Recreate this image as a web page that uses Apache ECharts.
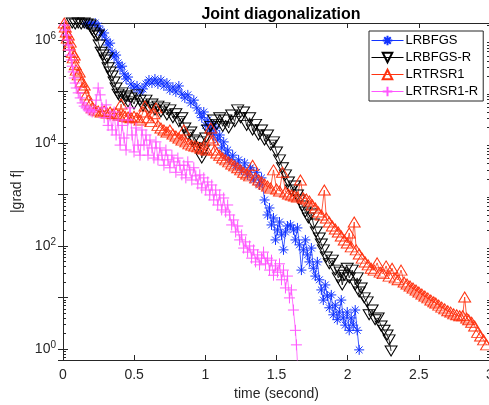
<!DOCTYPE html>
<html>
<head>
<meta charset="utf-8">
<script src="https://cdn.jsdelivr.net/npm/echarts@6/dist/echarts.min.js"></script>
<style>
html,body{margin:0;padding:0;background:#fff;}
#chart{width:489px;height:405px;}
</style>
</head>
<body>
<div id="chart"></div>
<script>
// ---- data: [time (s), |grad f|] ----
const seriesNames = ['LRBFGS', 'LRBFGS-R', 'LRTRSR1', 'LRTRSR1-R'];

const lrbfgs = [
[0.163,2.05e6],[0.184,2.14e6],[0.205,2.05e6],[0.226,2.14e6],[0.247,1.87e6],[0.261,1.56e6],[0.275,1.25e6],[0.289,1.37e6],
[0.303,1.0e6],[0.317,8.0e5],[0.331,8.7e5],[0.345,5.8e5],[0.359,4.7e5],[0.373,5.1e5],[0.387,3.6e5],[0.401,2.9e5],
[0.415,3.1e5],[0.429,2.2e5],[0.443,1.75e5],[0.457,1.91e5],[0.478,1.40e5],[0.499,1.17e5],[0.520,1.28e5],[0.541,9.8e4],
[0.562,1.12e5],[0.583,1.40e5],[0.604,1.67e5],[0.625,1.46e5],[0.646,1.75e5],[0.667,1.40e5],[0.688,1.67e5],[0.709,1.28e5],
[0.730,1.46e5],[0.751,1.07e5],[0.772,1.22e5],[0.793,9.8e4],[0.814,1.28e5],[0.835,8.9e4],[0.856,7.5e4],[0.877,8.6e4],
[0.898,6.0e4],[0.919,6.8e4],[0.940,4.8e4],[0.961,3.8e4],[0.975,3.1e4],[0.989,4.0e4],[1.003,2.2e4],[1.017,2.8e4],
[1.031,1.79e4],[1.045,2.3e4],[1.059,1.43e4],[1.073,1.96e4],[1.087,1.14e4],[1.101,1.43e4],[1.115,8.0e3],[1.129,1.05e4],
[1.143,5.8e3],[1.157,7.3e3],[1.171,4.7e3],[1.192,5.8e3],[1.213,3.7e3],[1.234,4.7e3],[1.255,3.0e3],[1.276,4.1e3],
[1.297,2.4e3],[1.318,3.3e3],[1.339,1.91e3],[1.360,2.7e3],[1.381,1.53e3],[1.395,2.1e3],[1.416,782],[1.437,400],
[1.451,547],[1.465,256],[1.479,350],[1.493,131],[1.507,205],[1.521,292],[1.535,164],[1.549,84],
[1.563,187],[1.577,244],[1.598,256],[1.619,205],[1.633,131],[1.647,224],[1.661,105],[1.675,34],
[1.689,84],[1.703,131],[1.717,67],[1.731,49],[1.745,91],[1.759,37],[1.773,26],[1.787,49],
[1.801,22],[1.815,14],[1.829,8.9],[1.843,17.5],[1.857,10.7],[1.871,6.3],[1.885,11.2],[1.899,4.6],
[1.913,7.1],[1.927,3.7],[1.941,5.2],[1.955,8.9],[1.969,4.0],[1.983,2.9],[1.997,5.2],[2.011,2.3],
[2.025,4.0],[2.039,2.9],[2.053,5.7],[2.067,2.3],[2.081,0.96]
];

const lrbfgsR = [
[0.065,2.14e6],[0.086,2.05e6],[0.107,2.14e6],[0.128,2.05e6],[0.149,2.14e6],[0.170,2.05e6],[0.191,1.95e6],[0.205,1.56e6],
[0.219,1.37e6],[0.233,1.20e6],[0.247,1.25e6],[0.254,8.0e5],[0.268,5.8e5],[0.282,5.1e5],[0.296,4.1e5],[0.310,4.5e5],
[0.317,2.9e5],[0.331,2.4e5],[0.345,2.0e5],[0.359,1.53e5],[0.373,1.17e5],[0.387,8.9e4],[0.401,7.8e4],[0.415,9.4e4],
[0.429,6.8e4],[0.443,8.2e4],[0.457,6.3e4],[0.478,7.5e4],[0.499,5.7e4],[0.520,8.6e4],[0.541,6.8e4],[0.562,5.2e4],
[0.583,6.8e4],[0.604,4.8e4],[0.625,5.7e4],[0.646,4.4e4],[0.667,5.2e4],[0.688,4.0e4],[0.709,4.8e4],[0.730,3.5e4],
[0.751,4.4e4],[0.772,3.1e4],[0.793,3.7e4],[0.814,2.6e4],[0.835,3.1e4],[0.856,1.96e4],[0.877,1.43e4],[0.898,1.64e4],
[0.919,1.14e4],[0.940,8.0e3],[0.961,1.05e4],[0.975,5.1e3],[0.989,7.3e3],[1.003,1.25e4],[1.017,1.79e4],[1.038,2.1e4],
[1.059,2.8e4],[1.080,2.3e4],[1.101,3.1e4],[1.122,2.1e4],[1.143,2.8e4],[1.164,1.96e4],[1.185,3.5e4],[1.206,2.6e4],
[1.227,4.4e4],[1.248,3.1e4],[1.269,4.0e4],[1.290,2.2e4],[1.311,3.1e4],[1.332,1.79e4],[1.353,2.3e4],[1.374,1.43e4],
[1.395,1.79e4],[1.416,1.14e4],[1.437,1.43e4],[1.458,9.1e3],[1.479,1.05e4],[1.500,6.7e3],[1.521,4.7e3],[1.542,3.3e3],
[1.563,2.4e3],[1.584,1.75e3],[1.605,1.22e3],[1.626,1.46e3],[1.647,980],[1.661,782],[1.682,598],[1.703,457],
[1.724,350],[1.745,418],[1.759,267],[1.780,187],[1.801,143],[1.815,109],[1.829,84],[1.850,61],
[1.871,45],[1.892,53],[1.913,34],[1.934,24],[1.948,31],[1.962,17.5],[1.976,27],[1.997,37],
[2.011,24],[2.032,34],[2.053,17.5],[2.067,24],[2.081,12.8],[2.095,15.3],[2.116,9.8],[2.137,8.2],
[2.151,4.6],[2.172,5.7],[2.193,3.7],[2.214,4.0],[2.235,2.8],[2.256,2.3],[2.277,1.87],[2.291,1.50],[2.305,0.91]
];

const lrtrsr1 = [
[0.009,2.14e6],[0.016,1.79e6],[0.023,1.43e6],[0.030,1.09e6],[0.037,1.25e6],[0.044,8.0e5],[0.051,9.1e5],[0.065,5.8e5],
[0.072,4.5e5],[0.079,5.1e5],[0.086,3.3e5],[0.093,2.6e5],[0.107,2.1e5],[0.114,2.4e5],[0.128,1.53e5],[0.142,1.17e5],
[0.149,1.34e5],[0.163,8.6e4],[0.177,6.8e4],[0.191,5.7e4],[0.205,4.8e4],[0.226,4.4e4],[0.247,4.2e4],[0.268,4.0e4],
[0.289,4.2e4],[0.310,3.8e4],[0.331,4.0e4],[0.352,3.7e4],[0.373,3.8e4],[0.394,3.5e4],[0.408,5.7e4],[0.422,3.5e4],
[0.436,3.3e4],[0.457,3.2e4],[0.478,3.1e4],[0.499,3.3e4],[0.520,3.1e4],[0.541,2.8e4],[0.562,4.0e4],[0.576,5.2e4],
[0.597,3.1e4],[0.618,2.6e4],[0.639,3.7e4],[0.653,4.8e4],[0.667,2.2e4],[0.688,1.96e4],[0.709,1.79e4],[0.730,1.64e4],
[0.751,1.79e4],[0.772,1.50e4],[0.793,1.37e4],[0.814,1.25e4],[0.835,1.14e4],[0.849,1.79e4],[0.863,1.05e4],[0.884,9.6e3],
[0.905,9.1e3],[0.926,8.7e3],[0.947,8.4e3],[0.968,8.0e3],[0.989,7.6e3],[1.010,7.3e3],[1.024,1.25e4],[1.038,1.96e4],
[1.052,1.14e4],[1.066,7.3e3],[1.080,6.4e3],[1.101,5.8e3],[1.122,5.1e3],[1.143,4.7e3],[1.164,4.3e3],[1.185,3.9e3],
[1.206,3.6e3],[1.227,3.3e3],[1.248,3.0e3],[1.269,2.7e3],[1.290,2.5e3],[1.311,2.3e3],[1.332,3.7e3],[1.353,2.1e3],
[1.374,1.91e3],[1.395,1.75e3],[1.416,1.60e3],[1.437,1.46e3],[1.458,1.34e3],[1.479,3.0e3],[1.500,1.28e3],[1.521,1.17e3],
[1.542,2.7e3],[1.563,1.12e3],[1.584,1.02e3],[1.605,980],[1.626,935],[1.647,895],[1.668,1.91e3],[1.689,855],
[1.710,818],[1.731,748],[1.752,625],[1.773,547],[1.794,457],[1.815,400],[1.836,1.22e3],[1.850,350],
[1.871,292],[1.892,244],[1.913,214],[1.934,187],[1.955,156],[1.976,131],[1.997,114],[2.011,179],
[2.025,96],[2.046,292],[2.060,84],[2.081,70],[2.102,58],[2.123,49],[2.144,43],[2.165,37],
[2.186,34],[2.207,47],[2.228,31],[2.249,29],[2.270,41],[2.291,26],[2.312,37],[2.333,24],
[2.354,22],[2.375,34],[2.396,20],[2.417,18.3],[2.438,16.7],[2.459,15.3],[2.480,14.0],[2.500,12.8],
[2.521,11.7],[2.542,10.7],[2.563,9.8],[2.584,8.9],[2.605,8.2],[2.619,7.8],[2.640,7.1],[2.661,6.5],
[2.682,6.0],[2.703,5.5],[2.724,5.2],[2.745,4.8],[2.766,4.6],[2.787,4.4],[2.808,4.4],[2.822,10.2],
[2.836,4.0],[2.850,3.7],[2.871,3.3],[2.892,2.8],[2.913,2.1],[2.934,1.79],[2.955,1.50],[2.976,1.20]
];

const lrtrsr1R = [
[0.009,1.95e6],[0.016,1.56e6],[0.023,1.25e6],[0.030,1.0e6],[0.037,8.0e5],[0.044,6.4e5],[0.051,5.1e5],[0.058,4.1e5],
[0.065,3.1e5],[0.072,2.4e5],[0.079,1.83e5],[0.086,1.46e5],[0.093,1.17e5],[0.107,9.4e4],[0.121,7.5e4],[0.135,6.0e4],
[0.149,5.2e4],[0.163,4.8e4],[0.177,4.4e4],[0.191,4.2e4],[0.205,4.0e4],[0.219,4.4e4],[0.233,6.8e4],[0.247,1.17e5],
[0.261,8.6e4],[0.275,4.8e4],[0.289,3.1e4],[0.303,5.5e4],[0.317,2.2e4],[0.331,3.5e4],[0.345,1.79e4],[0.359,4.0e4],
[0.373,1.43e4],[0.387,2.8e4],[0.401,9.1e3],[0.415,2.2e4],[0.429,1.25e4],[0.443,7.3e3],[0.457,2.8e4],[0.471,4.8e4],
[0.485,1.43e4],[0.499,6.7e3],[0.513,1.96e4],[0.527,9.1e3],[0.541,5.8e3],[0.555,1.79e4],[0.569,9.1e3],[0.583,1.43e4],
[0.597,5.8e3],[0.611,1.14e4],[0.625,8.0e3],[0.639,5.1e3],[0.653,1.05e4],[0.667,4.7e3],[0.681,8.0e3],[0.695,5.8e3],
[0.709,3.7e3],[0.723,7.3e3],[0.737,4.7e3],[0.751,3.3e3],[0.765,5.8e3],[0.779,4.3e3],[0.793,2.7e3],[0.807,5.1e3],
[0.821,3.7e3],[0.835,2.4e3],[0.849,3.7e3],[0.863,2.1e3],[0.877,4.3e3],[0.891,3.0e3],[0.905,1.91e3],[0.919,3.3e3],
[0.933,2.3e3],[0.947,1.60e3],[0.961,2.4e3],[0.975,1.34e3],[0.989,2.1e3],[1.003,1.22e3],[1.017,1.75e3],[1.031,980],
[1.045,1.53e3],[1.059,782],[1.073,1.22e3],[1.087,625],[1.101,980],[1.115,500],[1.129,855],[1.143,457],
[1.157,625],[1.171,400],[1.185,256],[1.199,320],[1.213,187],[1.227,244],[1.241,131],[1.255,164],
[1.269,91],[1.283,120],[1.297,76],[1.311,100],[1.325,58],[1.339,84],[1.353,49],[1.367,67],
[1.381,43],[1.395,58],[1.409,76],[1.423,45],[1.437,58],[1.451,34],[1.465,53],[1.479,27],
[1.493,41],[1.507,31],[1.521,45],[1.535,22],[1.549,34],[1.563,15.3],[1.577,26],[1.591,9.8],
[1.605,14.0],[1.619,5.7],[1.633,2.3],[1.640,1.20],[1.647,0.56]
];

// axis settings
const xMin = 0, xMax = 3, xStep = 0.5;
const yMin = 0.61, yMax = 2.14e6;
const minorMultipliers = [2, 3, 4, 5, 6, 7, 8, 9];
const minorExponents = [-1, 0, 1, 2, 3, 4, 5, 6];

const minorTicks = [];
minorExponents.forEach(e => minorMultipliers.forEach(m => {
  const v = m * Math.pow(10, e);
  if (v > yMin && v < yMax) minorTicks.push([xMin, v]);
}));

const axisColor = '#262626';
const font = 'Liberation Sans, Arial, Helvetica, sans-serif';

const asterisk = 'path://M0,5L10,5M5,0L5,10M1.6,1.6L8.4,8.4M1.6,8.4L8.4,1.6';
const plus = 'path://M0,5L10,5M5,0L5,10';

function mk(name, data, color, symbol, size, rotate, hollow) {
  return {
    name: name,
    type: 'line',
    data: data,
    symbol: symbol,
    symbolSize: size,
    symbolRotate: rotate,
    showAllSymbol: true,
    animation: false,
    lineStyle: { color: color, width: 0.8 },
    itemStyle: { color: hollow ? 'rgba(0,0,0,0)' : color, borderColor: color, borderWidth: 1 },
    emphasis: { disabled: true },
    z: 3
  };
}

const chart = echarts.init(document.getElementById('chart'), null, { renderer: 'canvas' });

chart.setOption({
  animation: false,
  backgroundColor: '#fff',
  textStyle: { fontFamily: font },
  title: {
    text: 'Joint diagonalization',
    left: 276, top: 2, textAlign: 'center',
    textStyle: { fontSize: 16, fontWeight: 'bold', color: '#000', fontFamily: font }
  },
  legend: {
    orient: 'vertical',
    left: 369, top: 31,
    itemWidth: 32, itemHeight: 12, itemGap: 4,
    padding: [3, 5, 3, 2],
    borderColor: '#262626', borderWidth: 1,
    backgroundColor: '#fff',
    lineStyle: { width: 1 },
    textStyle: { fontSize: 13, color: '#000', fontFamily: font, padding: [0, 0, 0, -3] },
    data: seriesNames
  },
  grid: { left: 63, top: 23, width: 427, height: 337, containLabel: false, outerBoundsMode: 'none' },
  xAxis: [{
    type: 'value', min: xMin, max: xMax, interval: xStep,
    name: 'time (second)', nameLocation: 'middle', nameGap: 24,
    nameTextStyle: { fontSize: 14, color: axisColor, fontFamily: font },
    axisLine: { lineStyle: { color: axisColor } },
    axisTick: { inside: true, length: 5, lineStyle: { color: axisColor } },
    axisLabel: { fontSize: 14, color: axisColor, margin: 8, fontFamily: font },
    splitLine: { show: false }
  }, {
    type: 'value', min: xMin, max: xMax, interval: xStep, position: 'top',
    axisLine: { lineStyle: { color: axisColor } },
    axisTick: { inside: true, length: 5, lineStyle: { color: axisColor } },
    axisLabel: { show: false }, splitLine: { show: false }
  }],
  yAxis: [{
    type: 'log', logBase: 10, min: yMin, max: yMax,
    name: '|grad f|', nameLocation: 'middle', nameGap: 36, nameRotate: 90,
    nameTextStyle: { fontSize: 14, color: axisColor, fontFamily: font },
    axisLine: { show: true, lineStyle: { color: axisColor } },
    axisTick: { inside: true, length: 5, lineStyle: { color: axisColor } },
    axisLabel: {
      margin: 7, color: axisColor, fontFamily: font,
      showMinLabel: false, showMaxLabel: false,
      formatter: function (v) {
        const e = Math.log10(v);
        const r = Math.round(e);
        if (Math.abs(e - r) > 1e-6 || r % 2 !== 0) return '';
        return '{b|10}{s|' + r + '}';
      },
      rich: {
        b: { fontSize: 14, color: axisColor, fontFamily: font },
        s: { fontSize: 10, color: axisColor, fontFamily: font, verticalAlign: 'bottom', padding: [0, 0, 8, 0] }
      }
    },
    splitLine: { show: false }, minorTick: { show: false }
  }, {
    type: 'log', logBase: 10, min: yMin, max: yMax, position: 'right',
    axisLine: { show: true, lineStyle: { color: axisColor } },
    axisTick: { inside: true, length: 5, lineStyle: { color: axisColor } },
    axisLabel: { show: false }, splitLine: { show: false }
  }],
  series: [
    mk('LRBFGS', lrbfgs, '#1133ff', asterisk, 10, 0, false),
    mk('LRBFGS-R', lrbfgsR, '#000000', 'triangle', [12, 10], 180, true),
    mk('LRTRSR1', lrtrsr1, '#ff3311', 'triangle', [12, 10], 0, true),
    mk('LRTRSR1-R', lrtrsr1R, '#ff55ff', plus, 11, 0, false),
    {
      type: 'custom',
      name: 'minorTicks',
      silent: true,
      animation: false,
      clip: false,
      data: minorTicks,
      z: 1,
      renderItem: function (params, api) {
        const v = api.value(1);
        const pL = api.coord([xMin, v]);
        const pR = api.coord([xMax, v]);
        const y = Math.round(pL[1]) + 0.5;
        return {
          type: 'group',
          children: [
            { type: 'line', shape: { x1: pL[0], y1: y, x2: pL[0] + 3, y2: y }, style: { stroke: axisColor, lineWidth: 1 } },
            { type: 'line', shape: { x1: pR[0] - 3, y1: y, x2: pR[0], y2: y }, style: { stroke: axisColor, lineWidth: 1 } }
          ]
        };
      }
    }
  ]
});
</script>
</body>
</html>
